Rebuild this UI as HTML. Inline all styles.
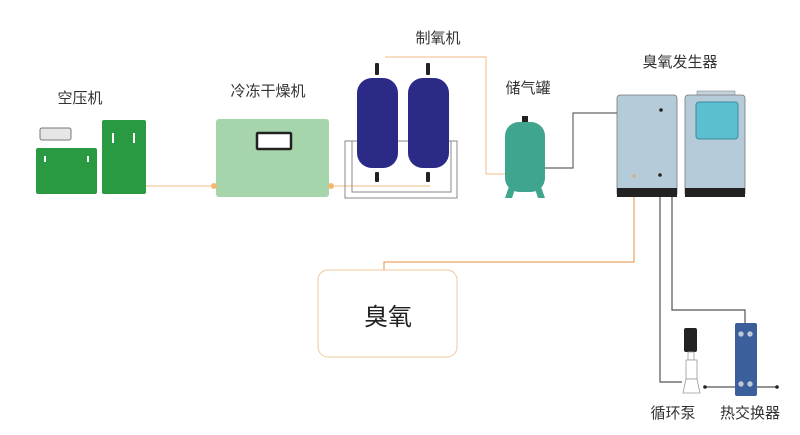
<!DOCTYPE html>
<html><head><meta charset="utf-8"><style>
html,body{margin:0;padding:0;background:#fff;}
svg{display:block}
text{font-family:"Liberation Sans","Noto Sans CJK SC",sans-serif;fill:#333;font-size:15px;text-anchor:middle}
</style></head><body>
<svg width="800" height="435" viewBox="0 0 800 435" xmlns="http://www.w3.org/2000/svg">
<!-- lines -->
<g fill="none" stroke-width="1.2">
<path d="M146 186H216" stroke="#f3c99a"/>
<path d="M331 186H430" stroke="#f3c99a"/>
<path d="M385 57H486V174H505" stroke="#f3c99a"/>
<path d="M634 176V262H384V270" stroke="#e9a565"/>
<path d="M545 168H573V113H617" stroke="#666"/>
<path d="M661 110H672V310H745V323" stroke="#555"/>
<path d="M660 175V382H682" stroke="#555"/>
<path d="M705 387H777" stroke="#555"/>
</g>
<!-- air compressor -->
<rect x="40" y="128" width="31" height="12" rx="2" fill="#e6e6e6" stroke="#777"/>
<rect x="36" y="148" width="61" height="46" rx="2" fill="#2a9a42"/>
<rect x="102" y="120" width="44" height="74" rx="2" fill="#2a9a42"/>
<rect x="44" y="156" width="2" height="6" fill="#fff"/><rect x="87" y="156" width="2" height="6" fill="#fff"/>
<rect x="112" y="133" width="2" height="10" fill="#fff"/><rect x="133" y="133" width="2" height="10" fill="#fff"/>
<!-- dryer -->
<rect x="216" y="119" width="113" height="78" rx="3" fill="#a6d5ab"/>
<rect x="257" y="133" width="34" height="16" rx="1" fill="#fff" stroke="#222" stroke-width="2.5"/>
<circle cx="214" cy="186" r="3" fill="#f3b870"/><circle cx="331" cy="186" r="3" fill="#f3b870"/>
<!-- oxygen generator -->
<rect x="345" y="141" width="112" height="57" fill="none" stroke="#888"/>
<rect x="352" y="141" width="99" height="51" fill="none" stroke="#888"/>
<rect x="375" y="63" width="4" height="12" rx="1" fill="#222"/><rect x="426" y="63" width="4" height="12" rx="1" fill="#222"/>
<rect x="375" y="172" width="4" height="10" rx="1" fill="#222"/><rect x="426" y="172" width="4" height="10" rx="1" fill="#222"/>
<rect x="357" y="78" width="41" height="90" rx="15" fill="#2b2a87"/>
<rect x="408" y="78" width="41" height="90" rx="15" fill="#2b2a87"/>
<!-- tank -->
<rect x="522" y="116" width="6" height="8" fill="#222"/>
<path d="M510 184l-5 14h7l4-12z M540 184l5 14h-7l-4-12z" fill="#3fa58f"/>
<rect x="505" y="122" width="40" height="70" rx="14" fill="#3fa58f"/>
<!-- ozone generator -->
<rect x="617" y="95" width="60" height="101" rx="3" fill="#b6cbd9" stroke="#777" stroke-width="0.8"/>
<rect x="617" y="188" width="60" height="9" fill="#222"/>
<rect x="697" y="91" width="38" height="6" fill="#c5d3dd" stroke="#888" stroke-width="0.6"/>
<rect x="685" y="95" width="60" height="101" rx="3" fill="#b6cbd9" stroke="#777" stroke-width="0.8"/>
<rect x="685" y="188" width="60" height="9" fill="#222"/>
<rect x="696" y="102" width="42" height="37" rx="3" fill="#5bbfd0" stroke="#3a8a9a"/>
<circle cx="661" cy="110" r="1.8" fill="#222"/><circle cx="660" cy="175" r="1.8" fill="#222"/><circle cx="634" cy="176" r="1.5" fill="#e9a565"/>
<!-- ozone box -->
<rect x="318" y="270" width="139" height="87" rx="10" fill="#fff" stroke="#f0c89a"/>
<text x="388" y="325" style="font-size:24px;fill:#222">臭氧</text>
<!-- pump -->
<rect x="684" y="328" width="13" height="24" rx="2" fill="#222"/>
<rect x="688" y="352" width="6" height="8" fill="#fff" stroke="#999" stroke-width="0.8"/>
<rect x="686" y="360" width="11" height="19" fill="#fff" stroke="#999" stroke-width="0.8"/>
<path d="M686 379h11l3 14h-17z" fill="#fff" stroke="#999" stroke-width="0.8"/>
<!-- heat exchanger -->
<circle cx="705" cy="387" r="1.8" fill="#222"/><circle cx="777" cy="387" r="1.8" fill="#222"/>
<rect x="735" y="323" width="22" height="73" rx="2" fill="#3a5f9a"/>
<circle cx="741" cy="334" r="2.7" fill="#bfc8d8"/><circle cx="750" cy="334" r="2.7" fill="#bfc8d8"/>
<circle cx="741" cy="384" r="2.7" fill="#bfc8d8"/><circle cx="750" cy="384" r="2.7" fill="#bfc8d8"/>
<!-- labels -->
<text x="80" y="103">空压机</text>
<text x="268" y="96">冷冻干燥机</text>
<text x="438" y="43">制氧机</text>
<text x="528" y="93">储气罐</text>
<text x="680" y="67">臭氧发生器</text>
<text x="673" y="418">循环泵</text>
<text x="750" y="418">热交换器</text>
</svg>
</body></html>
